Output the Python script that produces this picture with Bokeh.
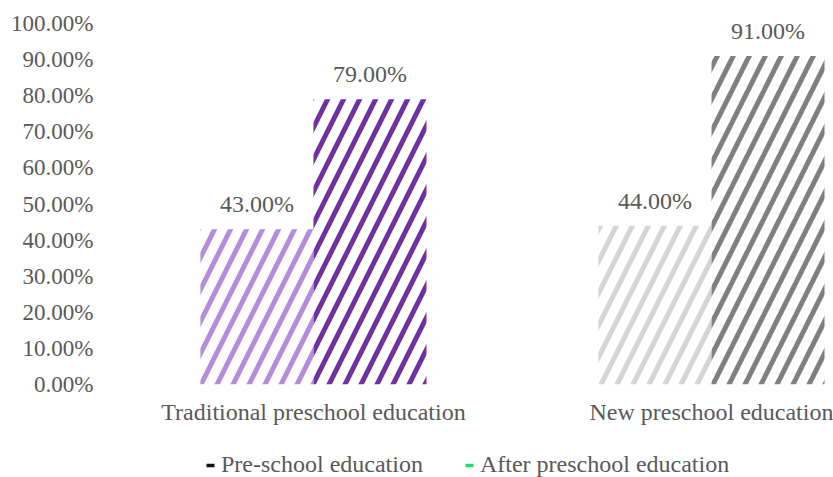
import numpy as np
from bokeh.plotting import figure
from bokeh.layouts import column
from bokeh.models import (ColumnDataSource, FixedTicker, Legend, LegendItem,
                          NumeralTickFormatter, Range1d)
from bokeh.embed import file_html
from bokeh.resources import INLINE
from bokeh.core.properties import value

categories = ["Traditional preschool education", "New preschool education"]
series = ["Pre-school education", "After preschool education"]
pre_values = [0.43, 0.44]
after_values = [0.79, 0.91]
pre_colors = ["#B58BDC", "#D4D4D4"]
after_colors = ["#7030A0", "#7F7F7F"]
legend_colors = ["#111111", "#22DD66"]
y_ticks = [i / 10 for i in range(11)]

FONT = "Liberation Serif"
TXT = "#595959"
BW = 0.284

idx = np.arange(len(categories))
pre_src = ColumnDataSource(dict(x=idx - BW / 2, top=pre_values, color=pre_colors,
                                label=[f"{v*100:.2f}%" for v in pre_values]))
after_src = ColumnDataSource(dict(x=idx + BW / 2, top=after_values, color=after_colors,
                                  label=[f"{v*100:.2f}%" for v in after_values]))

p = figure(width=833, height=430, x_range=Range1d(-0.535, 1.3065), y_range=Range1d(0, 1),
           output_backend="svg", toolbar_location=None,
           min_border_left=100, min_border_right=0, min_border_top=23, min_border_bottom=46)
p.outline_line_color = None
p.xgrid.visible = False
p.ygrid.visible = False
p.background_fill_color = "white"

for src in (pre_src, after_src):
    p.vbar(x="x", top="top", bottom=0, width=BW, source=src,
           fill_color="white", line_color=None,
           hatch_pattern="right_diagonal_line", hatch_color="color",
           hatch_scale=32, hatch_weight=5)
    p.text(x="x", y="top", text="label", source=src, text_align="center",
           text_baseline="bottom", y_offset=-12, text_font=value(FONT),
           text_font_size="24px", text_color=TXT)

# axes
p.yaxis.ticker = FixedTicker(ticks=y_ticks)
p.yaxis.formatter = NumeralTickFormatter(format="0.00%")
p.yaxis.axis_line_color = None
p.yaxis.major_tick_line_color = None
p.yaxis.minor_tick_line_color = None
p.yaxis.major_label_standoff = 1
p.yaxis.major_label_text_font = FONT
p.yaxis.major_label_text_font_size = "23px"
p.yaxis.major_label_text_color = TXT

p.xaxis.ticker = FixedTicker(ticks=[int(i) for i in idx])
p.xaxis.major_label_overrides = {int(i): c for i, c in zip(idx, categories)}
p.xaxis.axis_line_color = None
p.xaxis.major_tick_line_color = None
p.xaxis.minor_tick_line_color = None
p.xaxis.major_label_standoff = 8
p.xaxis.major_label_text_font = FONT
p.xaxis.major_label_text_font_size = "24px"
p.xaxis.major_label_text_color = TXT

# legend strip
lg = figure(width=833, height=47, x_range=Range1d(0, 833), y_range=Range1d(0, 47),
            output_backend="svg", toolbar_location=None, min_border=0)
lg.axis.visible = False
lg.grid.visible = False
lg.outline_line_color = None
items = []
for name, col in zip(series, legend_colors):
    r = lg.scatter(x=[-50], y=[-50], marker="dash", angle=np.pi / 4, size=10,
                   line_color=col, line_width=3.5)
    items.append(LegendItem(label=name, renderers=[r]))
legend = Legend(items=items, orientation="horizontal", location=(100, -1),
                glyph_width=20, glyph_height=26, label_standoff=1, spacing=36,
                label_text_font=FONT, label_text_font_size="24px", label_text_color=TXT,
                border_line_color=None, background_fill_alpha=0, margin=0, padding=0)
lg.add_layout(legend)

layout = column(p, lg, spacing=0)
open("out.html", "w").write(file_html(layout, INLINE))
